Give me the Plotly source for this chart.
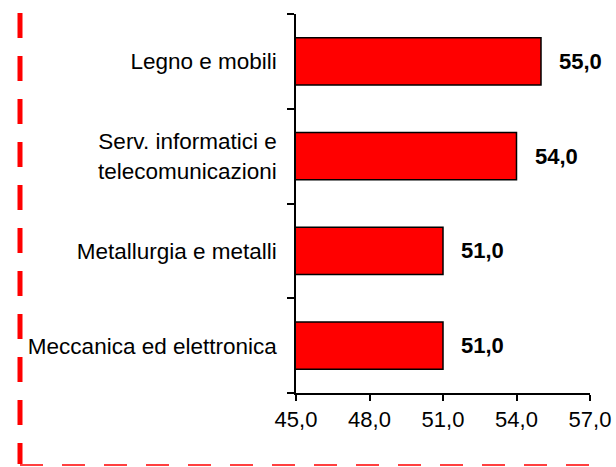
import plotly.graph_objects as go

categories = ["Meccanica ed elettronica", "Metallurgia e metalli",
              "Serv. informatici e<br>telecomunicazioni", "Legno e mobili"]
values = [51.0, 51.0, 54.0, 55.0]
tick_vals = [45, 48, 51, 54, 57]
tick_text = ["45,0", "48,0", "51,0", "54,0", "57,0"]
labels = [f"{v:.1f}".replace(".", ",") for v in values]

W, H = 616, 467
L, R, T, B = 296, 26, 14, 74
pw, ph = W - L - R, H - T - B

def px(x):
    return (x - L) / pw

def py(y):
    return (H - B - y) / ph

fig = go.Figure()
fig.add_trace(go.Bar(
    y=categories, x=values, orientation="h",
    marker=dict(color="#FF0000", line=dict(color="black", width=1.5)),
    width=0.5, hoverinfo="skip",
))

annotations = [dict(x=v, y=c, text=f"<b>{t}</b>", showarrow=False, xanchor="left",
                    xshift=16, font=dict(family="Liberation Sans, Arial", size=22, color="black"))
               for v, c, t in zip(values, categories, labels)]

fig.update_layout(
    width=W, height=H,
    margin=dict(l=L, r=R, t=T, b=B, autoexpand=False),
    paper_bgcolor="white", plot_bgcolor="white",
    showlegend=False,
    font=dict(family="Liberation Sans, Arial", size=22.5, color="black"),
    xaxis=dict(range=[45, 57], tickvals=tick_vals, ticktext=tick_text, automargin=False,
               showgrid=False, zeroline=False, showline=True, linecolor="black", linewidth=1.5,
               ticks="outside", ticklen=6, tickwidth=1.5, tickcolor="black",
               tickfont=dict(size=22)),
    yaxis=dict(type="category", showgrid=False, zeroline=False, showline=True, automargin=False,
               linecolor="black", linewidth=1.5, ticks="outside", ticklen=7, tickwidth=1.5,
               tickcolor="black", tickson="boundaries", ticklabelstandoff=13),
    annotations=annotations,
    shapes=[
        dict(type="line", xref="paper", yref="paper", x0=px(20), x1=px(20), y0=py(13), y1=py(464),
             line=dict(color="#FF0000", width=5, dash="25px,18px")),
        dict(type="line", xref="paper", yref="paper", x0=px(20), x1=px(598), y0=py(465), y1=py(465),
             line=dict(color="#FF0000", width=1.5, dash="23px,19px")),
    ],
)

fig.write_html("out.html", config={"displayModeBar": False},
               post_script="document.body.style.margin='0';document.body.style.overflow='hidden';")
